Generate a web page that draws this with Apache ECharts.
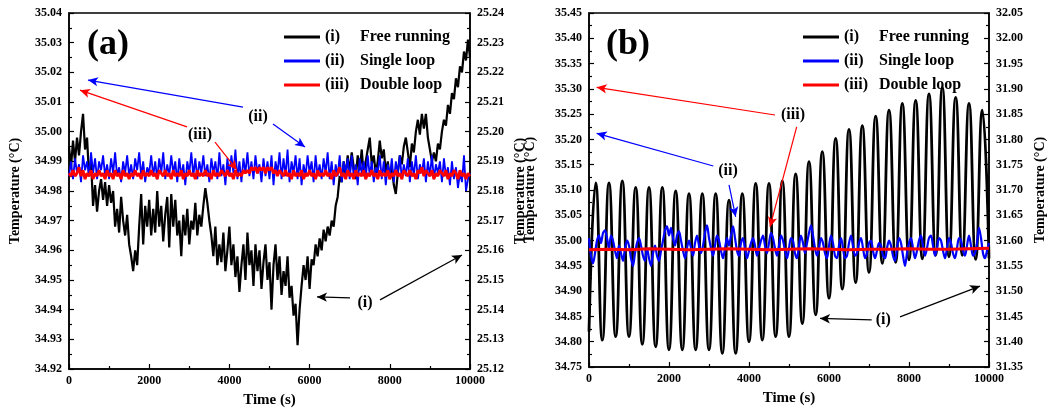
<!DOCTYPE html>
<html>
<head>
<meta charset="utf-8">
<script src="https://cdn.jsdelivr.net/npm/echarts@6/dist/echarts.min.js"></script>
<style>
  html, body { margin: 0; padding: 0; background: #fff; }
  #chart { width: 1055px; height: 418px; }
</style>
</head>
<body>
<div id="chart"></div>
<script>
/* ---- data ---- */
const STEP = 50;        // s, sampling of the noisy traces
const STEP_RED_B = 500; // s, double loop trace in (b)

// (a) free running
const freeA = [
  34.995, 34.988, 34.997, 34.990, 34.998, 34.992, 35.000, 35.006, 34.994, 34.998,
  34.985, 34.990, 34.975, 34.982, 34.973, 34.980, 34.984, 34.977, 34.983, 34.975,
  34.982, 34.976, 34.980, 34.968, 34.974, 34.966, 34.978, 34.970, 34.965, 34.972,
  34.962, 34.958, 34.953, 34.960, 34.955, 34.968, 34.979, 34.962, 34.975, 34.968,
  34.977, 34.965, 34.974, 34.966, 34.980, 34.968, 34.975, 34.963, 34.972, 34.978,
  34.961, 34.979, 34.968, 34.977, 34.965, 34.970, 34.958, 34.972, 34.965, 34.974,
  34.962, 34.970, 34.967, 34.976, 34.965, 34.972, 34.968, 34.975, 34.981, 34.976,
  34.970, 34.965, 34.958, 34.968, 34.955, 34.962, 34.956, 34.966, 34.953, 34.960,
  34.968, 34.955, 34.962, 34.951, 34.958, 34.946, 34.955, 34.962, 34.950, 34.966,
  34.955, 34.960, 34.948, 34.962, 34.953, 34.960, 34.947, 34.956, 34.962, 34.950,
  34.956, 34.940, 34.955, 34.962, 34.950, 34.958, 34.945, 34.953, 34.948, 34.958,
  34.944, 34.948, 34.938, 34.942, 34.928, 34.940, 34.948, 34.955, 34.950, 34.958,
  34.947, 34.957, 34.955, 34.962, 34.958, 34.964, 34.960, 34.967, 34.963, 34.968,
  34.965, 34.970, 34.968, 34.975, 34.978, 34.985, 34.983, 34.990, 34.985, 34.992,
  34.986, 34.993, 34.988, 34.984, 34.992, 34.987, 34.994, 34.985, 34.990, 34.994,
  34.998, 34.989, 34.992, 34.986, 34.990, 34.997, 34.991, 34.994, 34.986, 34.990,
  34.984, 34.988, 34.982, 34.979, 34.986, 34.992, 34.989, 34.995, 34.998, 34.993,
  34.988, 34.996, 34.993, 35.000, 35.004, 34.999, 35.006, 35.001, 35.006, 34.998,
  34.994, 34.990, 34.993, 34.990, 34.996, 34.994, 35.000, 35.004, 35.002, 35.009,
  35.006, 35.013, 35.011, 35.018, 35.015, 35.022, 35.020, 35.027, 35.024, 35.031,
  35.025
];
// (a) single loop
const singleA = [
  34.985, 34.990, 34.984, 34.991, 34.986, 34.989, 34.983, 34.992, 34.987, 34.990,
  34.985, 34.993, 34.986, 34.991, 34.984, 34.990, 34.987, 34.992, 34.985, 34.989,
  34.984, 34.991, 34.986, 34.993, 34.985, 34.988, 34.983, 34.990, 34.986, 34.992,
  34.985, 34.989, 34.984, 34.991, 34.987, 34.993, 34.985, 34.990, 34.983, 34.988,
  34.986, 34.992, 34.985, 34.990, 34.984, 34.991, 34.986, 34.993, 34.984, 34.989,
  34.985, 34.992, 34.986, 34.990, 34.983, 34.991, 34.985, 34.989, 34.982, 34.990,
  34.986, 34.993, 34.985, 34.991, 34.984, 34.990, 34.986, 34.992, 34.985, 34.989,
  34.983, 34.991, 34.986, 34.990, 34.984, 34.993, 34.985, 34.989, 34.982, 34.991,
  34.985, 34.992, 34.986, 34.994, 34.984, 34.990, 34.983, 34.991, 34.986, 34.993,
  34.985, 34.990, 34.984, 34.992, 34.986, 34.989, 34.983, 34.991, 34.985, 34.990,
  34.984, 34.992, 34.982, 34.990, 34.986, 34.993, 34.984, 34.991, 34.985, 34.994,
  34.983, 34.990, 34.986, 34.992, 34.984, 34.991, 34.982, 34.989, 34.985, 34.992,
  34.986, 34.990, 34.983, 34.992, 34.985, 34.989, 34.984, 34.991, 34.986, 34.993,
  34.984, 34.990, 34.982, 34.989, 34.985, 34.992, 34.983, 34.990, 34.986, 34.991,
  34.984, 34.992, 34.985, 34.989, 34.982, 34.991, 34.986, 34.990, 34.984, 34.992,
  34.985, 34.990, 34.983, 34.988, 34.986, 34.992, 34.984, 34.990, 34.982, 34.989,
  34.985, 34.991, 34.983, 34.990, 34.986, 34.992, 34.984, 34.989, 34.985, 34.991,
  34.983, 34.990, 34.985, 34.992, 34.984, 34.989, 34.986, 34.991, 34.983, 34.990,
  34.985, 34.992, 34.984, 34.989, 34.986, 34.990, 34.983, 34.991, 34.985, 34.988,
  34.982, 34.990, 34.984, 34.988, 34.981, 34.986, 34.983, 34.992, 34.980, 34.984,
  34.986
];
// (a) double loop
const doubleA = [
  34.986, 34.985, 34.987, 34.985, 34.986, 34.988, 34.985, 34.987, 34.984, 34.986,
  34.985, 34.987, 34.984, 34.986, 34.985, 34.987, 34.985, 34.986, 34.984, 34.987,
  34.985, 34.986, 34.984, 34.987, 34.985, 34.986, 34.984, 34.987, 34.985, 34.986,
  34.984, 34.986, 34.985, 34.987, 34.985, 34.986, 34.984, 34.987, 34.985, 34.986,
  34.985, 34.987, 34.985, 34.986, 34.984, 34.987, 34.986, 34.985, 34.987, 34.985,
  34.986, 34.984, 34.987, 34.985, 34.986, 34.985, 34.987, 34.984, 34.986, 34.985,
  34.987, 34.985, 34.986, 34.984, 34.987, 34.985, 34.986, 34.985, 34.987, 34.985,
  34.986, 34.984, 34.987, 34.985, 34.986, 34.985, 34.987, 34.986, 34.985, 34.987,
  34.985, 34.986, 34.984, 34.987, 34.985, 34.986, 34.985, 34.987, 34.986, 34.987,
  34.986, 34.988, 34.987, 34.988, 34.986, 34.988, 34.987, 34.988, 34.986, 34.988,
  34.987, 34.988, 34.986, 34.987, 34.985, 34.987, 34.986, 34.985, 34.987, 34.985,
  34.986, 34.984, 34.987, 34.985, 34.986, 34.985, 34.987, 34.984, 34.986, 34.985,
  34.987, 34.985, 34.986, 34.984, 34.987, 34.985, 34.986, 34.985, 34.987, 34.985,
  34.986, 34.984, 34.987, 34.985, 34.986, 34.988, 34.985, 34.986, 34.984, 34.987,
  34.985, 34.986, 34.984, 34.987, 34.985, 34.986, 34.985, 34.987, 34.984, 34.986,
  34.985, 34.987, 34.985, 34.986, 34.984, 34.987, 34.985, 34.986, 34.985, 34.987,
  34.984, 34.986, 34.985, 34.987, 34.985, 34.986, 34.984, 34.987, 34.986, 34.985,
  34.987, 34.985, 34.986, 34.984, 34.987, 34.986, 34.988, 34.985, 34.987, 34.986,
  34.985, 34.987, 34.984, 34.986, 34.985, 34.987, 34.986, 34.985, 34.987, 34.984,
  34.986, 34.985, 34.987, 34.986, 34.984, 34.987, 34.985, 34.986, 34.984, 34.986,
  34.985
];

// (b) free running: start, then peak / trough pairs
const timeFreeB = [
  0, 167, 333, 500, 667, 833, 1000, 1167, 1333, 1500, 1667, 1833, 2000, 2167, 2333,
  2500, 2667, 2833, 3000, 3167, 3333, 3500, 3667, 3833, 4000, 4167, 4333, 4500, 4667,
  4833, 5000, 5167, 5333, 5500, 5667, 5833, 6000, 6167, 6333, 6500, 6667, 6833, 7000,
  7167, 7333, 7500, 7667, 7833, 8000, 8167, 8333, 8500, 8667, 8833, 9000, 9167, 9333,
  9500, 9667, 9833, 10000
];
const freeB = [
  34.820,
  35.114, 34.803, 35.114, 34.810, 35.118, 34.810, 35.105, 34.795, 35.105, 34.790,
  35.105, 34.784, 35.098, 34.784, 35.093, 34.784, 35.093, 34.784, 35.093, 34.777,
  35.080, 34.777, 35.093, 34.800, 35.113, 34.803, 35.113, 34.810, 35.118, 34.810,
  35.132, 34.836, 35.156, 34.853, 35.176, 34.886, 35.202, 34.904, 35.220, 34.917,
  35.227, 34.937, 35.246, 34.955, 35.258, 34.957, 35.271, 34.962, 35.277, 34.964,
  35.290, 34.971, 35.303, 34.968, 35.283, 34.971, 35.271, 34.963, 35.258, 34.965
];
// (b) single loop
const singleB = [
  35.005, 34.970, 34.955, 34.975, 35.000, 35.010, 34.995, 35.015, 35.020, 35.005,
  34.985, 35.010, 35.000, 34.980, 34.965, 34.990, 34.975, 34.960, 34.985, 35.000,
  34.990, 34.965, 34.950, 34.975, 34.995, 35.005, 34.990, 34.970, 34.960, 34.985,
  34.965, 34.950, 34.975, 34.990, 34.970, 34.960, 34.980, 35.000, 35.020, 35.028,
  35.010, 35.025, 35.005, 34.990, 35.010, 35.018, 35.000, 34.980, 34.965, 34.985,
  35.000, 34.985, 34.970, 34.995, 35.010, 34.990, 34.975, 34.990, 35.015, 35.030,
  35.005, 34.985, 34.970, 34.990, 35.010, 35.000, 34.980, 34.965, 34.985, 35.005,
  34.990, 35.010, 35.028, 35.005, 34.980, 34.970, 34.995, 35.005, 34.985, 34.965,
  34.980, 34.995, 35.005, 34.990, 34.970, 34.985, 35.000, 35.010, 34.990, 34.975,
  34.995, 35.015, 35.005, 34.985, 34.970, 34.990, 35.010, 35.000, 34.980, 34.965,
  34.985, 35.005, 35.000, 34.975, 34.965, 34.990, 35.010, 34.995, 34.975, 34.995,
  35.015, 35.030, 35.010, 34.985, 34.970, 34.985, 35.005, 34.995, 34.975, 34.965,
  34.990, 35.010, 34.995, 34.970, 34.965, 34.990, 35.005, 34.985, 34.965, 34.970,
  34.995, 35.010, 34.990, 34.970, 34.975, 34.995, 35.005, 34.985, 34.965, 34.975,
  34.995, 35.000, 34.980, 34.965, 34.980, 34.995, 34.990, 34.970, 34.965, 34.985,
  35.000, 34.990, 34.970, 34.960, 34.985, 35.005, 34.995, 34.970, 34.950, 34.975,
  34.995, 35.005, 34.985, 34.965, 34.980, 35.000, 35.010, 34.990, 34.970, 34.985,
  35.005, 35.010, 34.990, 34.970, 34.985, 35.005, 35.000, 34.980, 34.965, 34.985,
  35.005, 34.995, 34.975, 34.965, 34.985, 35.005, 35.000, 34.980, 34.970, 34.990,
  35.010, 34.990, 34.970, 34.975, 34.995, 35.025, 35.005, 34.975, 34.965, 34.980,
  34.995
];
// (b) double loop
const doubleB = [
  34.982, 34.983, 34.982, 34.984, 34.983, 34.982, 34.983, 34.984, 34.983, 34.982,
  34.983, 34.984, 34.983, 34.982, 34.983, 34.983, 34.984, 34.983, 34.983, 34.984,
  34.985
];

const seriesNames = ["Free running", "Single loop", "Double loop"];
const seriesTags = ["(i)", "(ii)", "(iii)"];

// annotation arrows, [from, to] in data units (time, temperature)
const arrowsA = {
  free:   [[[7007, 34.9440], [6185, 34.9443]], [[7756, 34.9433], [9800, 34.9584]]],
  single: [[[4339, 35.0083], [474, 35.0174]],  [[5087, 35.0026], [5885, 34.9948]]],
  double: [[[2943, 35.0016], [274, 35.0140]],  [[3641, 34.9965], [4190, 34.9871]]]
};
const tagsA = { free: [7382, 34.9423], single: [4713, 35.0050], double: [3267, 34.9989] };
const arrowsB = {
  free:   [[[7067, 34.843], [5775, 34.846]], [[7775, 34.849], [9775, 34.910]]],
  single: [[[3108, 35.1475], [192, 35.212]], [[3500, 35.110], [3667, 35.047]]],
  double: [[[4650, 35.2483], [192, 35.303]], [[5192, 35.225], [4525, 35.027]]]
};
const tagsB = { free: [7358, 34.843], single: [3475, 35.138], double: [5100, 35.248] };

/* ---- chart ---- */
const FONT = "'Liberation Serif', 'Times New Roman', serif";
const COLORS = ["#000000", "#0000ff", "#ff0000"];

const pairs = (vals, step) => vals.map((v, i) => [i * step, v]);
const pairsT = (ts, vals) => vals.map((v, i) => [ts[i], v]);

function notes(arrows, tag, text, color) {
  return {
    markLine: {
      silent: true,
      symbol: ["none", "arrow"],
      symbolSize: [7, 10],
      label: { show: false },
      lineStyle: { color, width: 1.2, type: "solid" },
      data: arrows.map((a) => [{ coord: a[0] }, { coord: a[1] }]),
    },
    markPoint: {
      silent: true,
      symbol: "circle",
      symbolSize: 1,
      itemStyle: { color: "rgba(0,0,0,0)" },
      label: {
        show: true, position: "inside", formatter: text,
        color: "#000", fontFamily: FONT, fontWeight: "bold", fontSize: 16,
      },
      data: [{ coord: tag }],
    },
  };
}

function lineSeries(name, idx, data, width, color, extra) {
  return Object.assign({
    name, type: "line", xAxisIndex: idx, yAxisIndex: idx * 2,
    data, symbol: "none", showSymbol: false,
    lineStyle: { color, width }, itemStyle: { color },
    animation: false,
  }, extra);
}

const axisText = { fontFamily: FONT, fontWeight: "bold", fontSize: 12, color: "#000" };
const nameText = { fontFamily: FONT, fontWeight: "bold", fontSize: 14, color: "#000" };

function xAxis(gridIndex) {
  return {
    type: "value", gridIndex, min: 0, max: 10000, interval: 2000,
    name: "Time (s)", nameLocation: "middle", nameGap: 24, nameTextStyle: { ...nameText, fontSize: 15 },
    axisLine: { lineStyle: { color: "#000", width: 1.5 } },
    axisTick: { inside: true, length: 5, lineStyle: { color: "#000", width: 1.2 } },
    minorTick: { show: true, splitNumber: 2, length: 3, lineStyle: { color: "#000", width: 1.2 } },
    axisLabel: { ...axisText, margin: 6, formatter: (v) => String(v) },
    splitLine: { show: false },
  };
}

function yAxis(gridIndex, position, min, max, interval, gap) {
  return {
    type: "value", gridIndex, position, min, max, interval,
    name: "Temperature (\u00B0C)", nameLocation: "middle", nameGap: gap, nameRotate: 90,
    nameTextStyle: nameText,
    axisLine: { show: true, onZero: false, lineStyle: { color: "#000", width: 1.5 } },
    axisTick: { inside: true, length: 5, lineStyle: { color: "#000", width: 1.2 } },
    minorTick: { show: true, splitNumber: 2, length: 3, lineStyle: { color: "#000", width: 1.2 } },
    axisLabel: { ...axisText, margin: 7, formatter: (v) => v.toFixed(2) },
    splitLine: { show: false },
  };
}

function legend(left) {
  return {
    left, top: 24, orient: "vertical", itemWidth: 36, itemHeight: 12, itemGap: 8,
    icon: "path://M0,5 L36,5 L36,8 L0,8 Z",
    data: seriesNames,
    formatter: (n) => "{a|" + seriesTags[seriesNames.indexOf(n)] + "}{b|" + n + "}",
    textStyle: {
      fontFamily: FONT, fontWeight: "bold", fontSize: 16, color: "#000",
      rich: {
        a: { width: 35, fontFamily: FONT, fontWeight: "bold", fontSize: 16, color: "#000" },
        b: { fontFamily: FONT, fontWeight: "bold", fontSize: 16, color: "#000" },
      },
    },
  };
}

const chart = echarts.init(document.getElementById("chart"), null, { renderer: "canvas" });

chart.setOption({
  backgroundColor: "#fff",
  animation: false,
  title: [
    { text: "(a)", left: 82, top: 22, textStyle: { fontFamily: FONT, fontWeight: "bold", fontSize: 36, color: "#000" } },
    { text: "(b)", left: 601, top: 22, textStyle: { fontFamily: FONT, fontWeight: "bold", fontSize: 36, color: "#000" } },
  ],
  legend: [legend(279), legend(798)],
  grid: [
    { left: 69, right: 585, top: 13, bottom: 49, show: true, borderColor: "#000", borderWidth: 1.5 },
    { left: 589, right: 66, top: 13, bottom: 51, show: true, borderColor: "#000", borderWidth: 1.5 },
  ],
  xAxis: [xAxis(0), xAxis(1)],
  yAxis: [
    yAxis(0, "left", 34.92, 35.04, 0.01, 47),
    yAxis(0, "right", 25.12, 25.24, 0.01, 43),
    yAxis(1, "left", 34.75, 35.45, 0.05, 52),
    yAxis(1, "right", 31.35, 32.05, 0.05, 44),
  ],
  series: [
    lineSeries(seriesNames[0], 0, pairs(freeA, STEP), 2.2, COLORS[0], notes(arrowsA.free, tagsA.free, "(i)", COLORS[0])),
    lineSeries(seriesNames[1], 0, pairs(singleA, STEP), 1.8, COLORS[1], notes(arrowsA.single, tagsA.single, "(ii)", COLORS[1])),
    lineSeries(seriesNames[2], 0, pairs(doubleA, STEP), 2.8, COLORS[2], notes(arrowsA.double, tagsA.double, "(iii)", COLORS[2])),
    lineSeries(seriesNames[0], 1, pairsT(timeFreeB, freeB), 2.8, COLORS[0], Object.assign({ smooth: true }, notes(arrowsB.free, tagsB.free, "(i)", COLORS[0]))),
    lineSeries(seriesNames[1], 1, pairs(singleB, STEP), 2.2, COLORS[1], Object.assign({ smooth: 0.3 }, notes(arrowsB.single, tagsB.single, "(ii)", COLORS[1]))),
    lineSeries(seriesNames[2], 1, pairs(doubleB, STEP_RED_B), 3, COLORS[2], notes(arrowsB.double, tagsB.double, "(iii)", COLORS[2])),
  ],
});

window.addEventListener("resize", () => chart.resize());
</script>
</body>
</html>
